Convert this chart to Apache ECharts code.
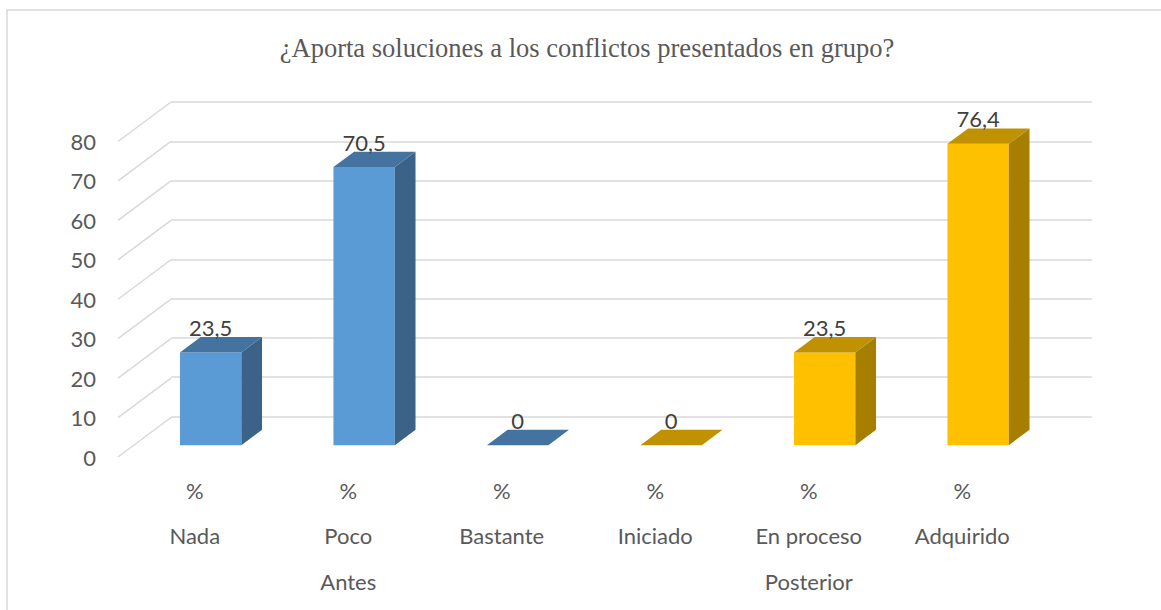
<!DOCTYPE html>
<html>
<head>
<meta charset="utf-8">
<script src="https://cdn.jsdelivr.net/npm/echarts@6/dist/echarts.min.js"></script>
<style>
  html, body { margin: 0; padding: 0; background: #fff; }
  #chart { width: 1161px; height: 610px; }
</style>
</head>
<body>
<div id="chart"></div>
<script>
// datos del gráfico
const titleText = "¿Aporta soluciones a los conflictos presentados en grupo?";
const unitLabels = ["%", "%", "%", "%", "%", "%"];
const categories = ["Nada", "Poco", "Bastante", "Iniciado", "En proceso", "Adquirido"];
const groups = ["Antes", "Posterior"];
const antesValues = [23.5, 70.5, 0, null, null, null];
const posteriorValues = [null, null, null, 0, 23.5, 76.4];
const yTicks = [0, 10, 20, 30, 40, 50, 60, 70, 80];

// profundidad de la vista 3D (px) y posicion de las barras dentro de ella
const DEPTH = [53, -39.5];
const BAR_FRONT = 0.3;
const BAR_DEPTH = 0.39;
const BAR_WIDTH = 0.4;
const FONT = "Lato";

function toPairs(values) {
  let out = [];
  values.forEach(function (v, i) {
    if (v !== null) out.push([i, v]);
  });
  return out;
}

function makeBarRenderer(front, top, side) {
  return function (params, api) {
    let idx = api.value(0);
    let val = api.value(1);
    let base = api.coord([idx, 0]);
    let head = api.coord([idx, val]);
    let band = api.size([1, 0])[0];
    let w = band * BAR_WIDTH;
    let fx = DEPTH[0] * BAR_FRONT, fy = DEPTH[1] * BAR_FRONT;
    let dx = DEPTH[0] * BAR_DEPTH, dy = DEPTH[1] * BAR_DEPTH;
    let x0 = base[0] + fx - w / 2;
    let x1 = base[0] + fx + w / 2;
    let yb = base[1] + fy;
    let yt = head[1] + fy;
    let children = [];
    if (yb - yt > 0.5) {
      children.push({
        type: "rect",
        shape: { x: x0, y: yt, width: w, height: yb - yt },
        style: { fill: front }
      });
      children.push({
        type: "polygon",
        shape: { points: [[x1, yt], [x1 + dx, yt + dy], [x1 + dx, yb + dy], [x1, yb]] },
        style: { fill: side }
      });
    }
    children.push({
      type: "polygon",
      shape: { points: [[x0, yt], [x1, yt], [x1 + dx, yt + dy], [x0 + dx, yt + dy]] },
      style: { fill: top }
    });
    children.push({
      type: "text",
      style: {
        text: String(val).replace(".", ","),
        x: base[0] + fx,
        y: yt + dy - 9.5,
        align: "center",
        verticalAlign: "middle",
        fill: "#404040",
        font: "22px " + FONT
      }
    });
    return { type: "group", children: children };
  };
}

let chartDom = document.getElementById("chart");
let chart = echarts.init(chartDom, null, { renderer: "svg" });

let axisText = { color: "#595959", fontFamily: FONT, fontSize: 22 };

let option = {
  backgroundColor: "#ffffff",
  animation: false,
  graphic: [
    {
      type: "rect",
      shape: { x: 7, y: 10, width: 1300, height: 800 },
      style: { fill: "none", stroke: "#d9d9d9", lineWidth: 1.5 },
      z: 0
    },
    {
      type: "text",
      x: 587,
      y: 48,
      style: {
        text: titleText,
        align: "center",
        verticalAlign: "middle",
        fill: "#595959",
        font: "26.5px 'Liberation Serif'"
      }
    }
  ],
  grid: [
    { left: 118, right: 122, top: 141.5, bottom: 153 },
    { left: 171, right: 69, top: 102, bottom: 193.5 }
  ],
  xAxis: [
    {
      type: "category", gridIndex: 0, data: unitLabels, position: "bottom",
      axisLine: { show: false }, axisTick: { show: false },
      axisLabel: Object.assign({ margin: 22, interval: 0 }, axisText)
    },
    {
      type: "category", gridIndex: 0, data: categories, position: "bottom", offset: 45,
      axisLine: { show: false }, axisTick: { show: false },
      axisLabel: Object.assign({ margin: 22, interval: 0 }, axisText)
    },
    {
      type: "category", gridIndex: 0, data: groups, position: "bottom", offset: 91,
      axisLine: { show: false }, axisTick: { show: false },
      axisLabel: Object.assign({ margin: 22, interval: 0 }, axisText)
    },
    {
      type: "category", gridIndex: 1, data: categories,
      show: false
    }
  ],
  yAxis: [
    {
      type: "value", gridIndex: 0, min: 0, max: 80, interval: 10,
      axisLine: { show: false }, axisTick: { show: false },
      splitLine: { show: false },
      axisLabel: Object.assign({ margin: 22 }, axisText)
    },
    {
      type: "value", gridIndex: 1, min: 0, max: 80, interval: 10,
      axisLine: { show: false }, axisTick: { show: false },
      axisLabel: { show: false },
      splitLine: { show: true, lineStyle: { color: "#d9d9d9", width: 1.5 } }
    }
  ],
  series: [
    {
      // lineas diagonales del lateral
      type: "custom",
      xAxisIndex: 1,
      yAxisIndex: 0,
      data: yTicks.map(function (v) { return [0, v]; }),
      renderItem: function (params, api) {
        let p = api.coord([0, api.value(1)]);
        let band = api.size([1, 0])[0];
        let x = p[0] - band / 2;
        return {
          type: "line",
          shape: { x1: x, y1: p[1], x2: x + DEPTH[0], y2: p[1] + DEPTH[1] },
          style: { stroke: "#d9d9d9", lineWidth: 1.5 }
        };
      },
      silent: true,
      z: 1
    },
    {
      name: "Antes",
      type: "custom",
      xAxisIndex: 1,
      yAxisIndex: 0,
      data: toPairs(antesValues),
      renderItem: makeBarRenderer("#5b9bd5", "#44739f", "#3a6387"),
      z: 3
    },
    {
      name: "Posterior",
      type: "custom",
      xAxisIndex: 1,
      yAxisIndex: 0,
      data: toPairs(posteriorValues),
      renderItem: makeBarRenderer("#ffc000", "#c09100", "#a67e00"),
      z: 3
    }
  ]
};

chart.setOption(option);
</script>
</body>
</html>
